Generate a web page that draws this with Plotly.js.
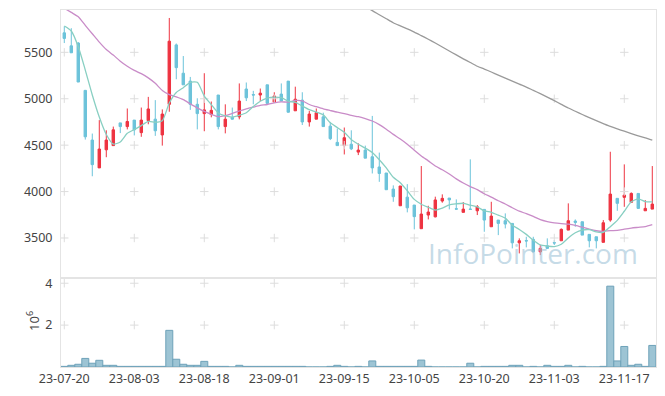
<!DOCTYPE html>
<html>
<head>
<meta charset="utf-8">
<script src="https://cdn.plot.ly/plotly-3.0.1.min.js"></script>
<style>html,body{margin:0;padding:0;background:#fff;}#chart{width:665px;height:396px;}</style>
</head>
<body>
<div id="chart"></div>
<script>
// trading days (category axis)
const dates = ["23-07-20","23-07-21","23-07-24","23-07-25","23-07-26","23-07-27","23-07-28","23-07-31","23-08-01","23-08-02",
"23-08-03","23-08-04","23-08-07","23-08-08","23-08-09","23-08-10","23-08-11","23-08-14","23-08-16","23-08-17",
"23-08-18","23-08-21","23-08-22","23-08-23","23-08-24","23-08-25","23-08-28","23-08-29","23-08-30","23-08-31",
"23-09-01","23-09-04","23-09-05","23-09-06","23-09-07","23-09-08","23-09-11","23-09-12","23-09-13","23-09-14",
"23-09-15","23-09-18","23-09-19","23-09-20","23-09-21","23-09-22","23-09-25","23-09-26","23-09-27","23-10-04",
"23-10-05","23-10-06","23-10-10","23-10-11","23-10-12","23-10-13","23-10-16","23-10-17","23-10-18","23-10-19",
"23-10-20","23-10-23","23-10-24","23-10-25","23-10-26","23-10-27","23-10-30","23-10-31","23-11-01","23-11-02",
"23-11-03","23-11-06","23-11-07","23-11-08","23-11-09","23-11-10","23-11-13","23-11-14","23-11-15","23-11-16",
"23-11-17","23-11-20","23-11-21","23-11-22","23-11-23"];

const openP = [5710,5570,5600,5090,4555,4255,4450,4495,4740,4700,
4770,4635,4765,4780,4610,4940,5580,5275,5190,4940,
4840,4830,5040,4700,4800,4805,5105,5045,5040,5150,
4965,5050,5190,4870,4985,4750,4780,4805,4705,4530,
4495,4510,4425,4447,4375,4265,4200,4027,3847,3940,
3855,3600,3747,3728,3898,3930,3815,3776,3812,3793,
3808,3621,3693,3686,3657,3448,3472,3485,3351,3416,
3450,3470,3585,3682,3675,3539,3513,3453,3693,3927,
3938,3884,3980,3793,3811];
const highP = [5780,5760,5610,5095,4625,4770,4660,4700,4740,4895,
4770,4905,5020,4985,4885,5870,5595,5460,5235,5005,
5275,4970,5040,4940,4905,5165,5175,5085,5110,5150,
5070,5165,5190,5130,5070,4870,4895,4850,4750,4680,
4690,4660,4520,4495,4815,4420,4200,4067,4060,4080,
3855,4275,3847,3945,3970,3930,3916,3887,4347,3855,
3808,3890,3693,3765,3657,3496,3513,3513,3424,3496,
3477,3603,3873,3700,3675,3539,3513,3693,4429,3927,
4293,3991,3980,3908,4275];
const lowP = [5600,5495,5180,4560,4165,4255,4370,4495,4630,4670,
4605,4590,4725,4600,4495,4860,5210,5150,4880,4670,
4650,4800,4670,4627,4775,4778,4975,4940,4975,4950,
4965,4975,4850,4870,4717,4700,4780,4700,4555,4495,
4400,4447,4393,4360,4195,4105,4020,3890,3847,3776,
3593,3600,3700,3722,3880,3808,3808,3776,3808,3747,
3567,3621,3531,3603,3388,3334,3399,3345,3316,3388,
3424,3470,3585,3621,3531,3399,3388,3453,3675,3793,
3836,3884,3815,3793,3811];
const closeP = [5650,5495,5180,4590,4290,4458,4555,4665,4700,4755,
4665,4770,4890,4655,4835,5620,5335,5150,4940,4840,
4880,4875,4700,4780,4780,4975,5010,5040,5060,4950,
5030,4975,4855,4995,4750,4835,4850,4700,4570,4495,
4580,4460,4447,4360,4255,4195,4020,3945,4060,3825,
3730,3758,3780,3910,3927,3910,3811,3811,3808,3836,
3693,3736,3657,3650,3448,3470,3468,3351,3388,3388,
3446,3593,3686,3668,3531,3470,3470,3664,3973,3873,
3962,3980,3819,3819,3865];

// moving averages
const ma5 = [5783,5730,5560,5309,5041,4803,4615,4512,4534,4627,
4668,4711,4756,4747,4763,4954,5067,5119,5176,5177,
5029,4937,4847,4815,4803,4822,4849,4917,4973,5007,
5018,5011,4974,4961,4921,4882,4857,4826,4741,4690,
4639,4561,4510,4468,4420,4343,4255,4155,4095,4009,
3916,3864,3831,3801,3821,3857,3868,3874,3853,3835,
3792,3777,3746,3714,3637,3592,3539,3477,3425,3413,
3408,3433,3500,3556,3585,3590,3565,3561,3622,3690,
3788,3890,3921,3891,3889];
const ma20 = [5975,5930,5883,5790,5700,5610,5530,5470,5405,5350,
5305,5270,5225,5166,5090,5045,5020,4990,4945,4902,
4863,4832,4808,4818,4842,4868,4891,4910,4928,4938,
4956,4966,4964,4981,4977,4938,4914,4891,4873,4855,
4840,4820,4807,4786,4760,4721,4671,4616,4566,4510,
4445,4384,4331,4276,4235,4189,4137,4092,4054,4021,
3977,3941,3901,3866,3826,3789,3762,3732,3698,3677,
3662,3654,3649,3637,3617,3595,3578,3571,3579,3581,
3595,3607,3615,3623,3644];
const ma60 = [null,null,null,null,null,null,null,null,null,null,
null,null,null,null,null,null,null,null,null,null,
null,null,null,null,null,null,null,null,null,null,
null,null,null,null,null,null,null,null,null,null,
null,null,null,5990,5950,5905,5862,5819,5785,5752,
5718,5680,5641,5600,5557,5514,5472,5430,5390,5350,
5320,5288,5255,5222,5190,5157,5126,5090,5055,5018,
4980,4940,4900,4865,4830,4797,4765,4733,4702,4675,
4650,4625,4600,4578,4553];

// volume in millions of shares
const volM = [0.03,0.08,0.13,0.41,0.18,0.32,0.08,0.08,0.03,0.03,
0.03,0.03,0.03,0.03,0.03,1.75,0.37,0.13,0.08,0.08,
0.27,0.03,0.03,0.03,0,0.08,0.03,0.03,0.03,0.03,
0.03,0.03,0.03,0.03,0.03,0,0,0,0.03,0.08,
0.03,0,0.03,0,0.29,0.03,0.03,0.03,0.03,0.03,
0.03,0.33,0.03,0,0,0,0,0,0.18,0,
0.03,0.03,0.03,0.03,0.08,0.08,0,0.03,0,0.08,
0.03,0.03,0.08,0,0.03,0,0,0.03,3.86,0.29,
0.98,0.08,0.13,0.03,1.03];

const xTickIdx = [0,10,20,30,40,50,60,70,80];
const priceTicks = [3500,4000,4500,5000,5500];
const volTicks = [2,4];

const tickDates = xTickIdx.map(i => dates[i]);
const UP = '#ee3340', DOWN = '#6cc3da';

function crossGrid(yvals, xa, ya) {
  const xs = [], ys = [];
  tickDates.forEach(d => yvals.forEach(v => { xs.push(d); ys.push(v); }));
  return {type:'scatter', mode:'markers', x:xs, y:ys, xaxis:xa, yaxis:ya, hoverinfo:'skip', showlegend:false,
    marker:{symbol:'cross-thin', size:6, color:'#dddddd', line:{color:'#dddddd', width:1}}};
}

const traces = [
  {type:'candlestick', x:dates, open:openP, high:highP, low:lowP, close:closeP, xaxis:'x', yaxis:'y',
   increasing:{line:{color:UP, width:1}, fillcolor:UP},
   decreasing:{line:{color:DOWN, width:1}, fillcolor:DOWN},
   whiskerwidth:0, hoverinfo:'skip', showlegend:false},
  {type:'bar', x:dates, y:volM, xaxis:'x2', yaxis:'y2', marker:{color:'#9dc4d4', line:{color:'#6ea2b9', width:1}}, hoverinfo:'skip', showlegend:false},
  crossGrid(priceTicks, 'x', 'y'),
  crossGrid(volTicks, 'x2', 'y2'),
  {type:'scatter', mode:'lines', x:dates, y:ma60, xaxis:'x', yaxis:'y', line:{color:'#9a9a9a', width:1.3, shape:'spline', smoothing:0.6}, hoverinfo:'skip', showlegend:false},
  {type:'scatter', mode:'lines', x:dates, y:ma20, xaxis:'x', yaxis:'y', line:{color:'#c98cc8', width:1.3, shape:'spline', smoothing:0.6}, hoverinfo:'skip', showlegend:false},
  {type:'scatter', mode:'lines', x:dates, y:ma5, xaxis:'x', yaxis:'y', line:{color:'#88cfc2', width:1.3, shape:'spline', smoothing:0.6}, hoverinfo:'skip', showlegend:false}
];

const axisFont = {family:'"Noto Sans", sans-serif', size:12.5, color:'#444'};
const split = 0.2493;
const layout = {
  width:665, height:396,
  margin:{l:61, r:9, t:10, b:29, pad:0},
  paper_bgcolor:'#fff', plot_bgcolor:'#fff',
  showlegend:false, boxgap:0.5, bargap:0,
  font:axisFont,
  xaxis:{type:'category', categoryorder:'array', categoryarray:dates, domain:[0,1], anchor:'y', range:[-0.47,84.53], rangeslider:{visible:false},
    showgrid:false, zeroline:false, showline:true, linecolor:'#e4e4e4', linewidth:1, mirror:true,
    tickvals:tickDates, showticklabels:false, ticks:''},
  xaxis2:{type:'category', categoryorder:'array', categoryarray:dates, domain:[0,1], anchor:'y2', matches:'x', range:[-0.47,84.53],
    showgrid:false, zeroline:false, showline:true, linecolor:'#e4e4e4', linewidth:1, mirror:true,
    tickvals:tickDates, ticktext:tickDates, ticks:'', tickfont:axisFont, tickangle:0},
  yaxis:{domain:[split,1], anchor:'x', range:[3069,5956], showgrid:false, zeroline:false,
    showline:true, linecolor:'#e4e4e4', linewidth:1, mirror:true,
    tickvals:priceTicks, ticktext:priceTicks.map(String), ticks:'', ticklabelstandoff:5, tickfont:axisFont},
  yaxis2:{domain:[0,split], anchor:'x2', range:[0,4.25], showgrid:false, zeroline:false,
    showline:true, linecolor:'#e4e4e4', linewidth:1, mirror:true,
    tickvals:volTicks, ticktext:volTicks.map(String), ticks:'', ticklabelstandoff:5, tickfont:axisFont},
  annotations:[
    {xref:'paper', yref:'paper', x:0.794, y:0.319, xanchor:'center', yanchor:'middle', text:'InfoPointer.com', showarrow:false,
     font:{family:'"Open Sans", sans-serif', size:28, color:'rgba(160,195,215,0.6)'}},
    {xref:'paper', yref:'y2', x:-0.047, y:2.2, xanchor:'center', yanchor:'middle', text:'10<sup>6</sup>', showarrow:false, textangle:-90,
     font:{family:'"Noto Sans", sans-serif', size:13, color:'#444'}}
  ]
};

Plotly.newPlot('chart', traces, layout, {staticPlot:true, displayModeBar:false});
</script>
</body>
</html>
